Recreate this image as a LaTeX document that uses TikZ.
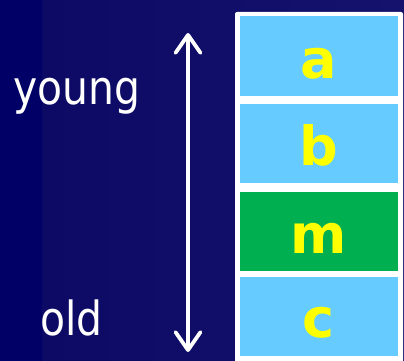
\documentclass[tikz,border=0pt]{standalone}
\usepackage{fontspec}
\setmainfont{DejaVu Sans}
\usetikzlibrary{arrows.meta}
\definecolor{navyA}{RGB}{0,0,102}
\definecolor{navyB}{RGB}{12,10,100}
\definecolor{navyC}{RGB}{20,18,108}
\definecolor{cellblue}{RGB}{102,204,255}
\definecolor{cellgreen}{RGB}{0,176,80}
\definecolor{lettery}{RGB}{255,255,0}
\tikzset{
  cell/.style={fill=#1, draw=none, minimum width=158pt, minimum height=79pt,
    inner sep=0pt},
  letter/.style={font=\bfseries\fontsize{54}{54}\selectfont, text=lettery,
    inner sep=0pt, anchor=base},
  agelabel/.style={text=white, font=\fontsize{47}{47}\selectfont, inner sep=0pt, anchor=base west},
  barbtip/.tip={Straight Barb[length=18pt,width=25pt,line width=3.8pt,round]},
  timearrow/.style={white, line width=3.4pt, line cap=round, barbtip-barbtip}
}
\begin{document}
\begin{tikzpicture}[x=1pt,y=-1pt]
  % background bands
  \useasboundingbox (0,0) rectangle (404,361);
  \fill[navyA] (0,0) rectangle (42,361);
  \shade[left color=navyB, right color=navyC] (42,0) rectangle (404,361);

  % white frame holding the stack
  \fill[white, rounded corners=2pt] (235,12) rectangle (403,366);

  % stacked cells
  \node[cell=cellblue]  (a) at (319,56)    {};
  \node[cell=cellblue]  (b) at (319,143.5) {};
  \node[cell=cellgreen] (m) at (319,231.5) {};
  \node[cell=cellblue]  (c) at (319,316.5) {};

  % cell letters
  \node[letter] (la) at (319,78)  {a};
  \node[letter] (lb) at (319,165) {b};
  \node[letter] (lm) at (319,253) {m};
  \node[letter] (lc) at (319,337) {c};

  % age labels
  \node[agelabel] (young) at (13,104) {\scalebox{0.87}[1]{young}};
  \node[agelabel] (old) at (40,335) {\scalebox{0.87}[1]{old}};

  % time axis
  \coordinate (top) at (188,33);
  \coordinate (bot) at (188,352);
  \draw[timearrow] (bot) -- (top);
\end{tikzpicture}
\end{document}
